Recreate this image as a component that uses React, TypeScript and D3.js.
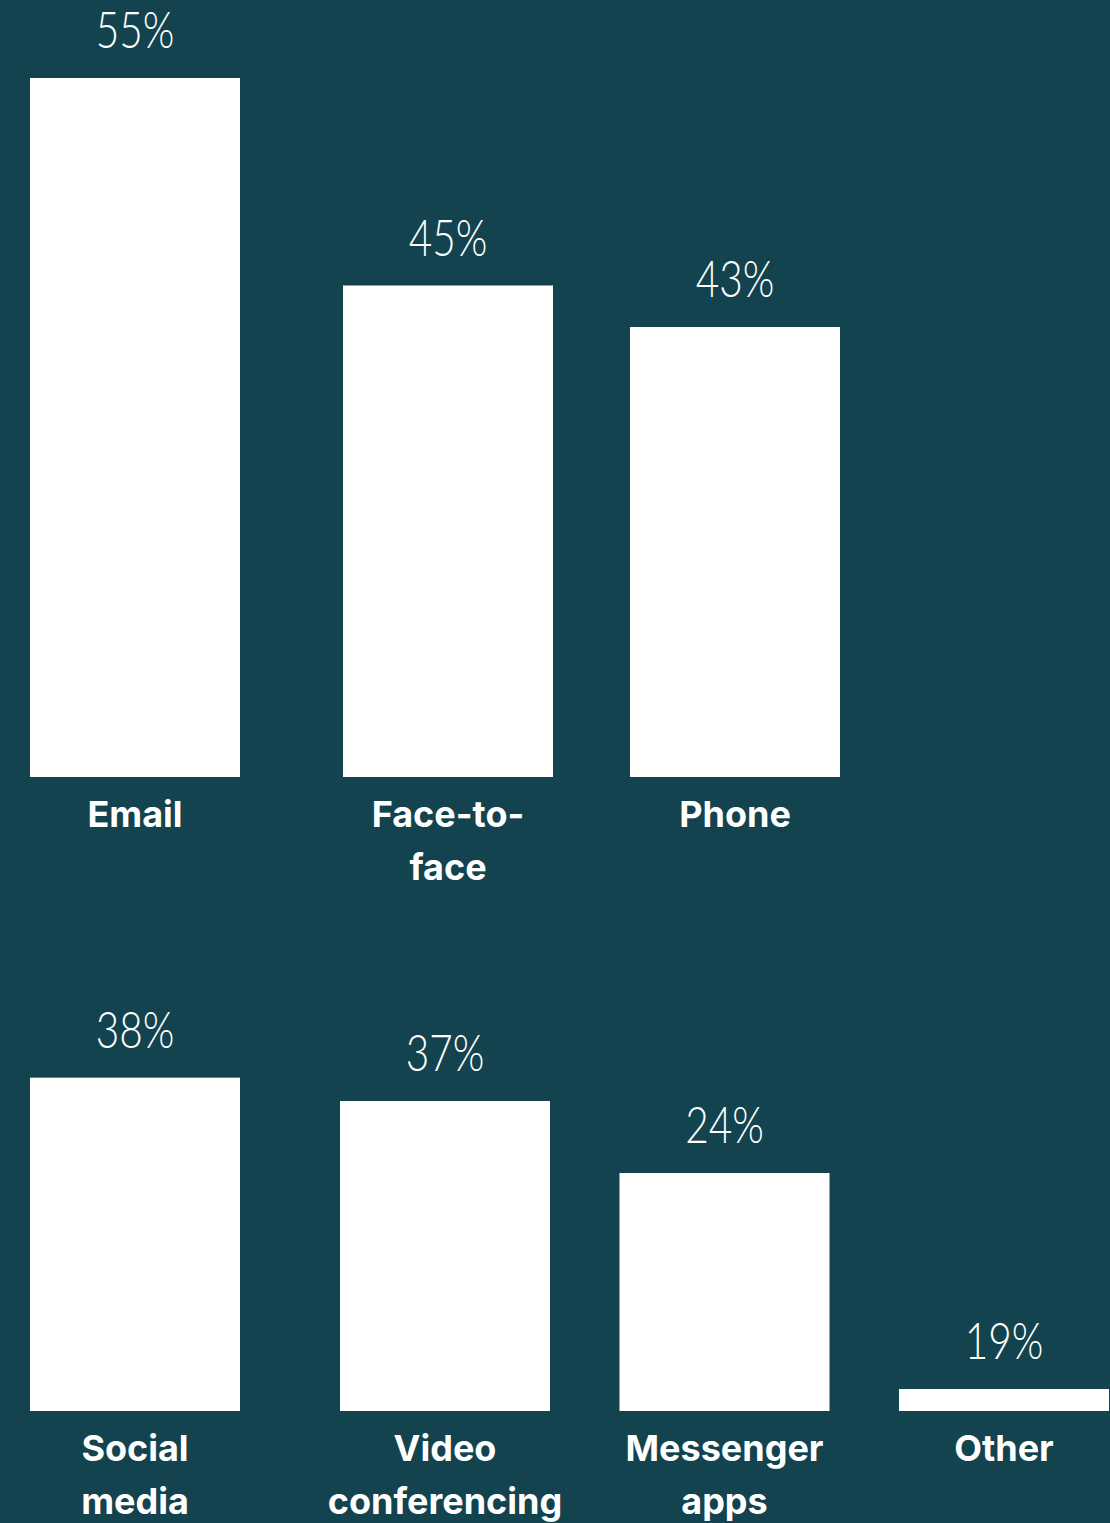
import React from "react";
import * as d3 from "d3";

const categories = [
  "Email",
  "Face-to-face",
  "Phone",
  "Social media",
  "Video conferencing",
  "Messenger apps",
  "Other",
];
const values = [55, 45, 43, 38, 37, 24, 19];
const rowSizes = [3, 4];

const W = 1110;
const H = 1523;
const BG = "#12434e";
const BAR_W = 210;
const rowBottoms = [777, 1411];
const rowColumnScales = [
  d3.scaleLinear().domain([0, 1, 2]).range([30, 343, 630]),
  d3.scaleLinear().domain([0, 1, 3]).range([30, 340, 899]),
];
// bar length scale (infographic, not strictly proportional)
const heightScale = d3
  .scaleLinear()
  .domain([19, 24, 37, 43, 55])
  .range([22, 238, 310, 450, 699]);

const VALUE_FONT = "Lato, 'Noto Sans', sans-serif";
const LABEL_FONT = "Inter, Lato, 'Noto Sans', sans-serif";
const LABEL_SIZE = 36;
const LINE_H = 53;
const WRAP_W = 200;

let ctx: CanvasRenderingContext2D | null = null;
function measure(t: string): number {
  if (!ctx) ctx = document.createElement("canvas").getContext("2d");
  if (!ctx) return t.length * LABEL_SIZE * 0.6;
  ctx.font = `700 ${LABEL_SIZE}px Inter`;
  return ctx.measureText(t).width;
}

function wrap(label: string, maxW: number): string[] {
  const tokens: string[] = [];
  label.split(" ").forEach((w, i, arr) => {
    const parts = w.split(/(?<=-)/);
    parts.forEach((p, j) => {
      const last = j === parts.length - 1 && i < arr.length - 1;
      tokens.push(last ? p + " " : p);
    });
  });
  const lines: string[] = [];
  let cur = "";
  tokens.forEach((tk) => {
    const trial = cur + tk;
    if (cur && measure(trial.trim()) > maxW) {
      lines.push(cur.trim());
      cur = tk;
    } else {
      cur = trial;
    }
  });
  if (cur.trim()) lines.push(cur.trim());
  return lines;
}

export default function App() {
  const items: { cat: string; val: number; row: number; col: number }[] = [];
  let idx = 0;
  rowSizes.forEach((n, r) => {
    for (let c = 0; c < n; c++) {
      items.push({ cat: categories[idx], val: values[idx], row: r, col: c });
      idx++;
    }
  });

  return (
    <svg
      width={W}
      height={H}
      style={{ position: "absolute", left: 0, top: 0, display: "block" }}
    >
      <rect x={0} y={0} width={W} height={H} fill={BG} />
      {items.map((d) => {
        const x0 = rowColumnScales[d.row](d.col);
        const cx = x0 + BAR_W / 2;
        const bottom = rowBottoms[d.row];
        const h = heightScale(d.val);
        const top = bottom - h;
        const lines = wrap(d.cat, WRAP_W);
        return (
          <g key={d.cat}>
            <rect x={x0} y={top} width={BAR_W} height={h} fill="#ffffff" />
            <g transform={`translate(${cx},${top - 30}) scale(0.78,1)`}>
              <text
                x={0}
                y={0}
                textAnchor="middle"
                fill="#ffffff"
                fontFamily={VALUE_FONT}
                fontWeight={300}
                fontSize={52}
              >
                {d3.format("d")(d.val)}%
              </text>
            </g>
            <text
              textAnchor="middle"
              fill="#ffffff"
              fontFamily={LABEL_FONT}
              fontWeight={700}
              fontSize={LABEL_SIZE}
            >
              {lines.map((ln, i) => (
                <tspan key={i} x={cx} y={bottom + 50 + i * LINE_H}>
                  {ln}
                </tspan>
              ))}
            </text>
          </g>
        );
      })}
    </svg>
  );
}
